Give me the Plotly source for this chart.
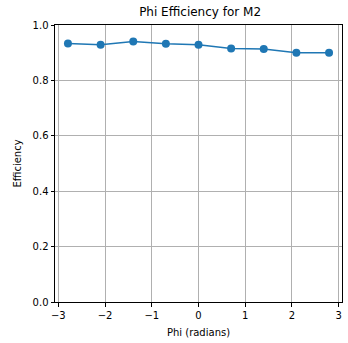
import plotly.graph_objects as go

phi = [-2.793, -2.094, -1.396, -0.698, 0.0, 0.698, 1.396, 2.094, 2.793]
eff = [0.933, 0.929, 0.940, 0.932, 0.929, 0.915, 0.913, 0.900, 0.900]

fig = go.Figure()
fig.add_trace(go.Scatter(x=phi, y=eff, mode="lines+markers",
                         line=dict(color="#1f77b4", width=1.5),
                         marker=dict(color="#1f77b4", size=8)))

axis_common = dict(showline=True, linecolor="black", linewidth=1, mirror=True,
                   ticks="outside", ticklen=3.5, tickcolor="black",
                   showgrid=True, gridcolor="#b0b0b0", gridwidth=0.8,
                   zeroline=False, tickfont=dict(size=10, color="black"))

fig.update_layout(
    width=348, height=343,
    margin=dict(l=55, r=6, t=25, b=41),
    plot_bgcolor="white", paper_bgcolor="white",
    font=dict(family="DejaVu Sans", size=10, color="black"),
    title=dict(text="Phi Efficiency for M2", x=0.575, xanchor="center",
               y=0.965, yanchor="middle", font=dict(size=12)),
    showlegend=False,
    xaxis=dict(range=[-3.07, 3.07], tickvals=[-3, -2, -1, 0, 1, 2, 3],
               ticktext=["\u22123", "\u22122", "\u22121", "0", "1", "2", "3"],
               title=dict(text="Phi (radians)", standoff=9, font=dict(size=10)),
               **axis_common),
    yaxis=dict(range=[0, 1], tickvals=[0, 0.2, 0.4, 0.6, 0.8, 1.0],
               tickformat=".1f",
               title=dict(text="Efficiency", standoff=9, font=dict(size=10)),
               **axis_common),
)

fig.write_html("out.html")
